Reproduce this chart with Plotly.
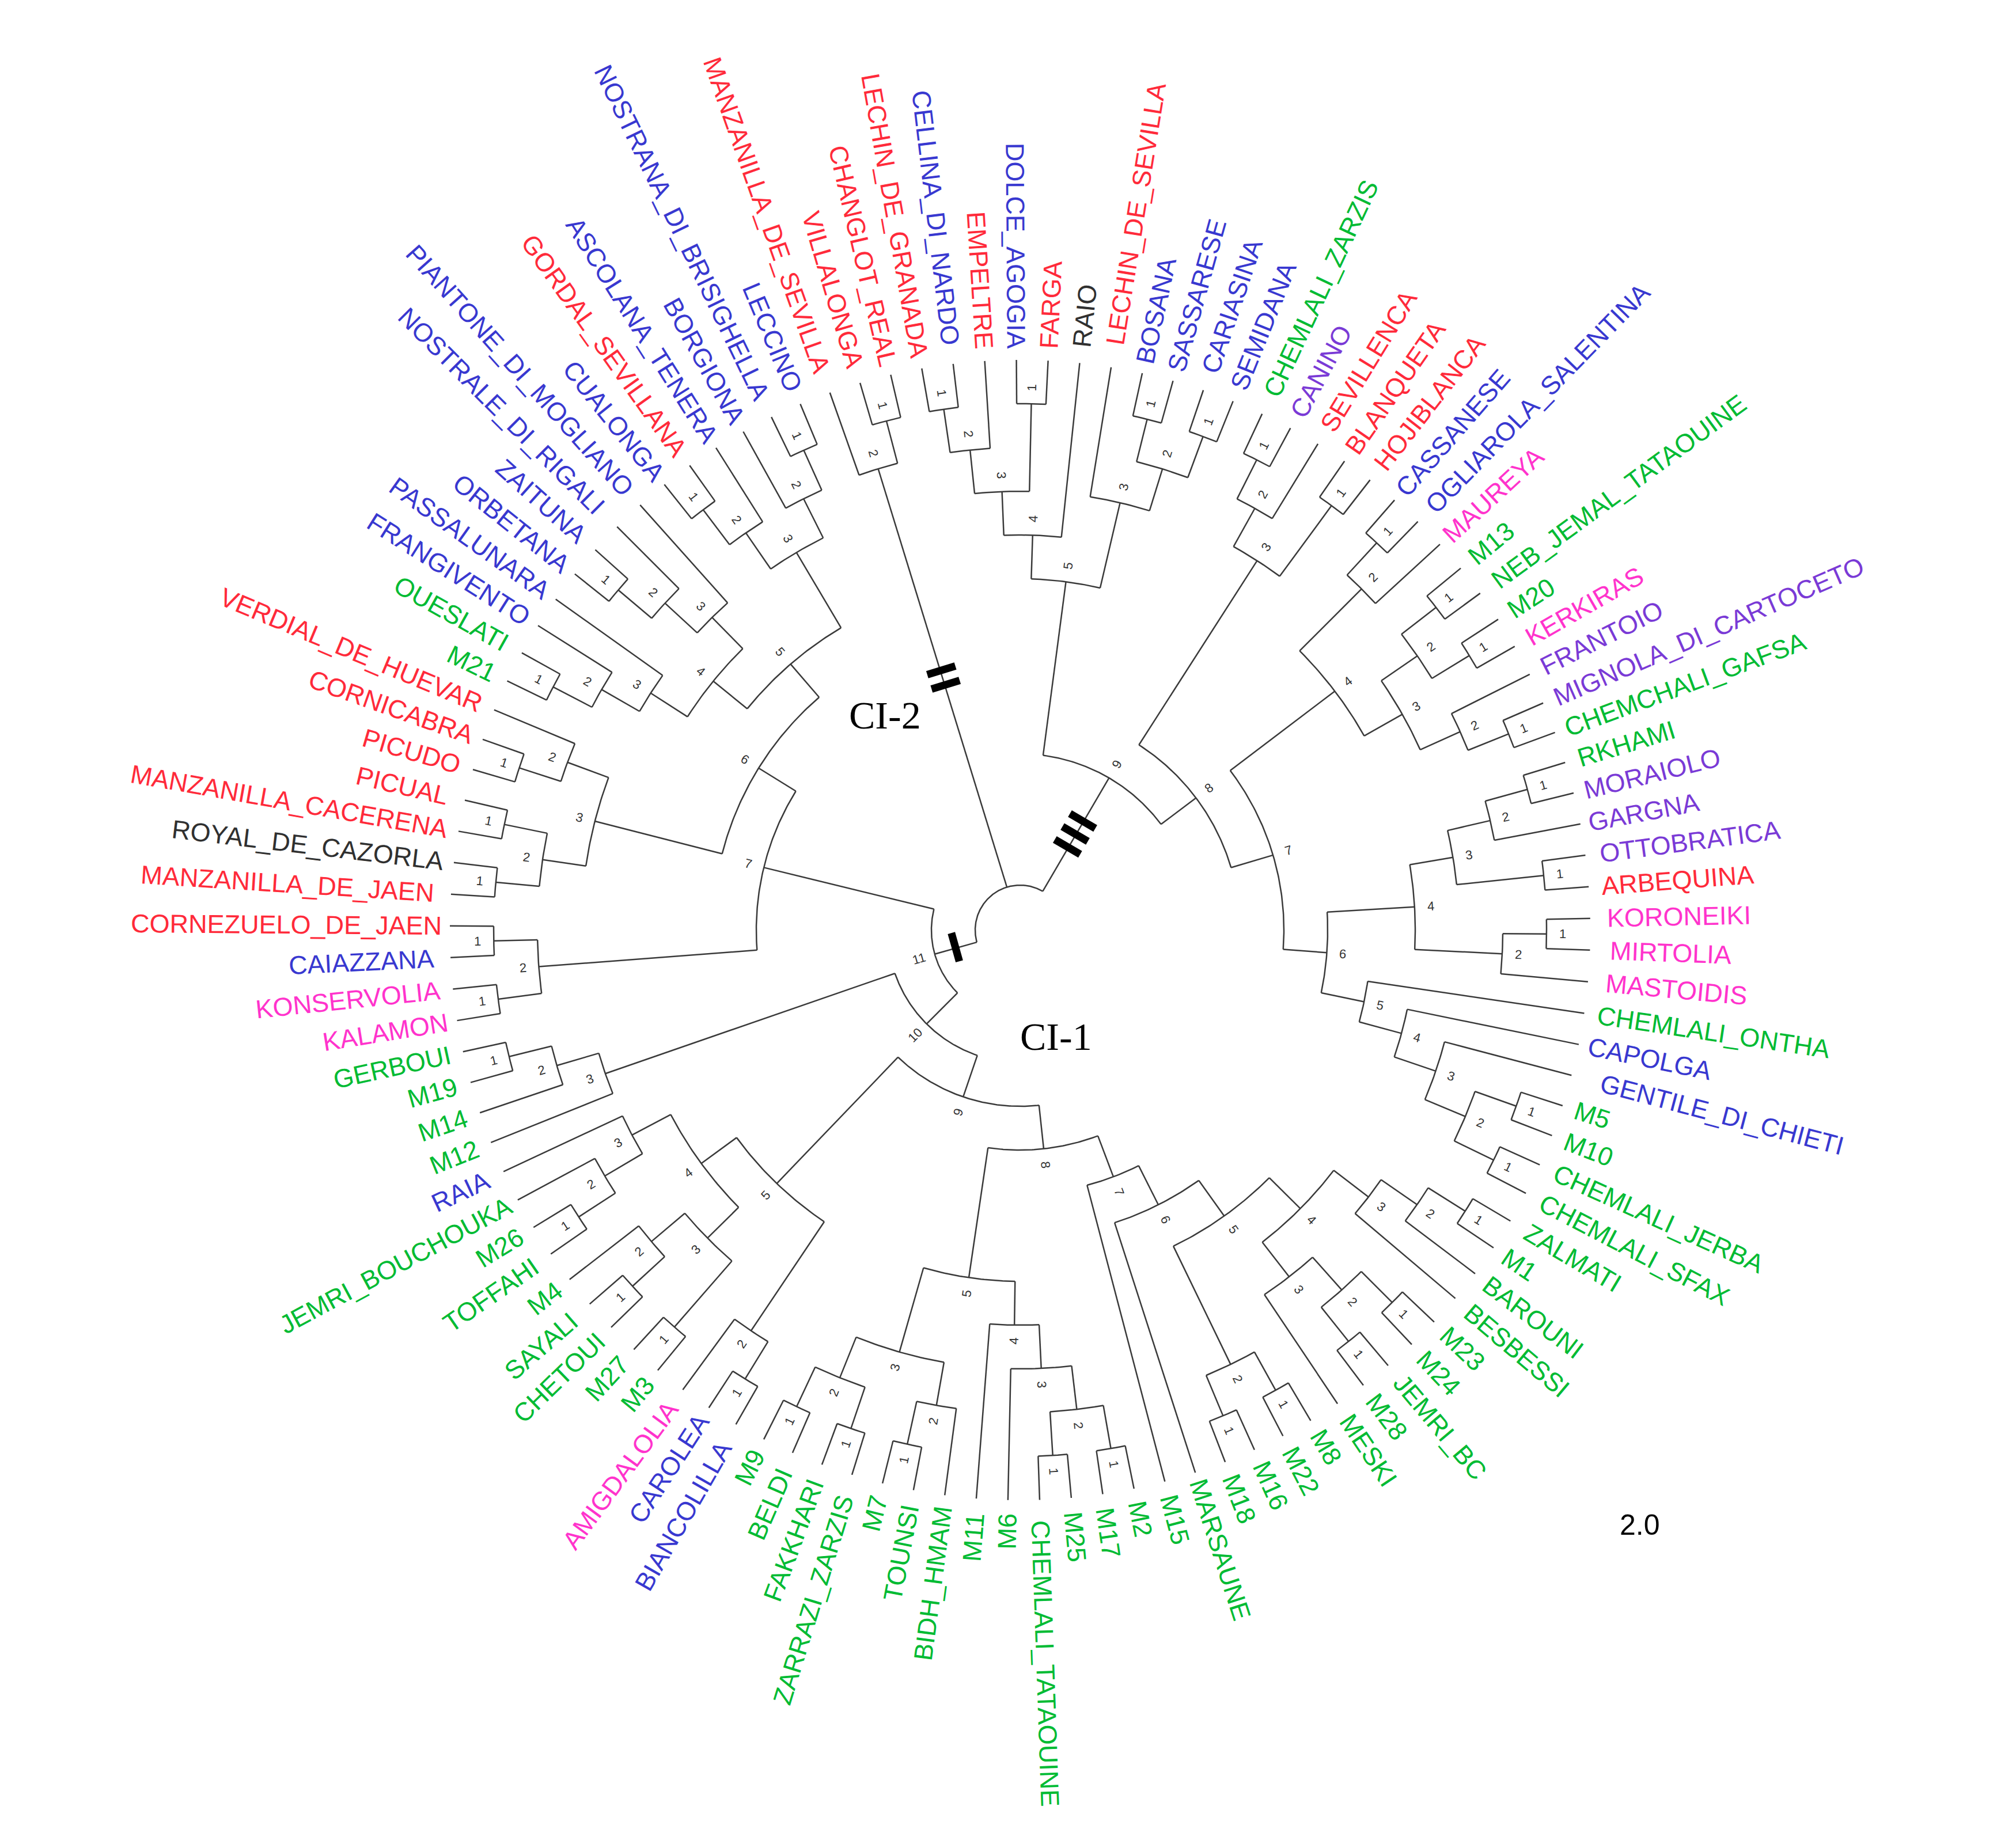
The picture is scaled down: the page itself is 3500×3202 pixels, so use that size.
import math
import plotly.graph_objects as go

# ---------------- data: clades (leaf order clockwise) ----------------
A = [[[["LECHIN_DE_GRANADA", "CELLINA_DI_NARDO"], "EMPELTRE"], ["DOLCE_AGOGIA", "FARGA"]], "RAIO"]
B = ["LECHIN_DE_SEVILLA", [["BOSANA", "SASSARESE"], ["CARIASINA", "SEMIDANA"]]]
C = [[["CHEMLALI_ZARZIS", "CANINO"], "SEVILLENCA"], ["BLANQUETA", "HOJIBLANCA"]]
D1 = [["CASSANESE", "OGLIAROLA_SALENTINA"], "MAUREYA"]
D2 = [[["M13", "NEB_JEMAL_TATAOUINE"], ["M20", "KERKIRAS"]],
      ["FRANTOIO", ["MIGNOLA_DI_CARTOCETO", "CHEMCHALI_GAFSA"]]]
E = [[["RKHAMI", "MORAIOLO"], "GARGNA"], ["OTTOBRATICA", "ARBEQUINA"]]
F = [["KORONEIKI", "MIRTOLIA"], "MASTOIDIS"]
CHAIN = ["CHEMLALI_ONTHA", ["CAPOLGA", ["GENTILE_DI_CHIETI",
         [["M5", "M10"], ["CHEMLALI_JERBA", "CHEMLALI_SFAX"]]]]]
CI3 = [[A, B], [C, [[D1, D2], [[E, F], CHAIN]]]]

BR1 = [[["ZALMATI", "M1"], "BAROUNI"], "BESBESSI"]
BR2 = [[["M23", "M24"], ["JEMRI_BC", "M28"]], "MESKI"]
BR3 = [["M8", "M22"], ["M16", "M18"]]
S1 = [[[[BR1, BR2], BR3], "MARSAUNE"], "M15"]
S2A = [[[["M2", "M17"], ["M25", "CHEMLALI_TATAOUINE"]], "M6"], "M11"]
S2B = [["BIDH_HMAM", ["TOUNSI", "M7"]], [["ZARRAZI_ZARZIS", "FAKKHARI"], ["BELDI", "M9"]]]
LL = [[["BIANCOLILLA", "CAROLEA"], "AMIGDALOLIA"],
      [[["M3", "M27"], [["CHETOUI", "SAYALI"], "M4"]],
       [[["TOFFAHI", "M26"], "JEMRI_BOUCHOUKA"], "RAIA"]]]
L1 = ["M12", ["M14", ["M19", "GERBOUI"]]]
U1 = [["KALAMON", "KONSERVOLIA"], ["CAIAZZANA", "CORNEZUELO_DE_JAEN"]]
U2 = [[["MANZANILLA_DE_JAEN", "ROYAL_DE_CAZORLA"], ["MANZANILLA_CACERENA", "PICUAL"]],
      [["PICUDO", "CORNICABRA"], "VERDIAL_DE_HUEVAR"]]
U3 = [[["M21", "OUESLATI"], "FRANGIVENTO"], "PASSALUNARA"]
U4 = [[["ORBETANA", "ZAITUNA"], "NOSTRALE_DI_RIGALI"], "PIANTONE_DI_MOGLIANO"]
U5 = [[["CUALONGA", "GORDAL_SEVILLANA"], "ASCOLANA_TENERA"],
      ["BORGIONA", ["NOSTRANA_DI_BRISIGHELLA", "LECCINO"]]]
CI1 = [[[[S1, [S2A, S2B]], LL], L1], [U1, [U2, [[U3, U4], U5]]]]
CI2 = ["MANZANILLA_DE_SEVILLA", ["VILLALONGA", "CHANGLOT_REAL"]]
ROOT = [CI3, CI1, CI2]
CLUSTER_MARKS = ["III", "I", "II"]

RED = ["LECHIN_DE_SEVILLA", "FARGA", "EMPELTRE", "LECHIN_DE_GRANADA", "CHANGLOT_REAL",
       "VILLALONGA", "MANZANILLA_DE_SEVILLA", "GORDAL_SEVILLANA", "SEVILLENCA", "BLANQUETA",
       "HOJIBLANCA", "ARBEQUINA", "VERDIAL_DE_HUEVAR", "CORNICABRA", "PICUDO", "PICUAL",
       "MANZANILLA_CACERENA", "MANZANILLA_DE_JAEN", "CORNEZUELO_DE_JAEN"]
BLACK = ["RAIO", "ROYAL_DE_CAZORLA"]
MAGENTA = ["MAUREYA", "KERKIRAS", "KORONEIKI", "MIRTOLIA", "MASTOIDIS", "KONSERVOLIA",
           "KALAMON", "AMIGDALOLIA"]
PURPLE = ["FRANTOIO", "MIGNOLA_DI_CARTOCETO", "MORAIOLO", "GARGNA", "OTTOBRATICA", "CANINO"]
BLUE = ["DOLCE_AGOGIA", "CELLINA_DI_NARDO", "LECCINO", "BORGIONA", "NOSTRANA_DI_BRISIGHELLA",
        "ASCOLANA_TENERA", "CUALONGA", "NOSTRALE_DI_RIGALI", "PIANTONE_DI_MOGLIANO", "ZAITUNA",
        "ORBETANA", "PASSALUNARA", "FRANGIVENTO", "BOSANA", "SASSARESE", "CARIASINA",
        "SEMIDANA", "CASSANESE", "OGLIAROLA_SALENTINA", "CAPOLGA", "GENTILE_DI_CHIETI",
        "CAIAZZANA", "RAIA", "CAROLEA", "BIANCOLILLA"]

# ---------------- geometry ----------------
W, H = 3500, 3202
CX, CY = 1763, 3202 - 1607
R_LEAF, DR, LABEL_GAP, FS = 990, 76, 25, 45

def color_of(n):
    if n in RED: return "#ff2a3a"
    if n in BLACK: return "#303030"
    if n in MAGENTA: return "#ff33cc"
    if n in PURPLE: return "#7a3ad6"
    if n in BLUE: return "#3838d0"
    return "#00bb33"

order = []
def collect(n):
    if isinstance(n, str): order.append(n)
    else:
        for c in n: collect(c)
collect(ROOT)
N = len(order)
STEP = 360.0 / N
THETA0 = 84 + order.index("RAIO") * STEP

def rad(h): return R_LEAF - h * DR
def xy(r, a):
    t = math.radians(a)
    return CX + r * math.cos(t), CY + r * math.sin(t)
def tangle(a):
    a = a % 360
    return -a if math.cos(math.radians(a)) >= 0 else -(a + 180)

lx, ly = [], []
num_labels = []
def add_node(res, h):
    r = rad(h)
    angs = [a for a, _ in res]
    a1, a2 = min(angs), max(angs)
    k = max(2, int(abs(a1 - a2) / 0.5))
    for i in range(k + 1):
        x, y = xy(r, a1 + (a2 - a1) * i / k); lx.append(x); ly.append(y)
    lx.append(None); ly.append(None)
    for a, ch in res:
        for rr in (r, rad(ch)):
            x, y = xy(rr, a); lx.append(x); ly.append(y)
        lx.append(None); ly.append(None)
    return (a1 + a2) / 2, r

def draw(n):
    if isinstance(n, str):
        return THETA0 - order.index(n) * STEP, 0
    res = [draw(c) for c in n]
    h = 1 + max(r[1] for r in res)
    am, r = add_node(res, h)
    num_labels.append((h, am, r))
    return am, h

root_res = [draw(c) for c in ROOT]
root_res = [((a % 360), h) for a, h in root_res]
root_h = 1 + max(r[1] for r in root_res)
r0 = rad(root_h)
add_node(root_res, root_h)

fig = go.Figure(go.Scatter(x=lx, y=ly, mode="lines", line=dict(color="#3a3a3a", width=2.5),
                           hoverinfo="skip", showlegend=False))

ann = []
for i, name in enumerate(order):
    a = THETA0 - i * STEP
    w = len(name) * 0.64 * FS
    x, y = xy(R_LEAF + LABEL_GAP + w / 2, a)
    ann.append(dict(x=x, y=y, text=name, showarrow=False, textangle=tangle(a),
                    xanchor="center", yanchor="middle",
                    font=dict(family="Liberation Sans, Arial", size=FS, color=color_of(name))))
for h, am, r in num_labels:
    x, y = xy(r + 28, am)
    ann.append(dict(x=x, y=y, text=str(h), showarrow=False, textangle=tangle(am),
                    font=dict(family="Liberation Sans, Arial", size=22, color="#333")))
for (a, ch), mk in zip(root_res, CLUSTER_MARKS):
    mr = (r0 + rad(ch)) / 2
    x, y = xy(mr, a)
    ann.append(dict(x=x, y=y, text="<b>" + mk + "</b>", showarrow=False, textangle=tangle(a),
                    font=dict(family="DejaVu Sans", size=70, color="black")))
ann.append(dict(x=685 * 2.232, y=H - 553 * 2.232, text="CI-2", showarrow=False,
                font=dict(family="Liberation Serif", size=68, color="black")))
ann.append(dict(x=818 * 2.232, y=H - 803 * 2.232, text="CI-1", showarrow=False,
                font=dict(family="Liberation Serif", size=68, color="black")))
ann.append(dict(x=1272 * 2.232, y=H - 1183 * 2.232, text="2.0", showarrow=False,
                font=dict(family="Liberation Sans", size=50, color="black")))

fig.update_layout(width=W, height=H, margin=dict(l=0, r=0, t=0, b=0),
                  plot_bgcolor="white", paper_bgcolor="white", annotations=ann,
                  xaxis=dict(range=[0, W], visible=False, fixedrange=True),
                  yaxis=dict(range=[0, H], visible=False, fixedrange=True))
fig.write_html("out.html")
